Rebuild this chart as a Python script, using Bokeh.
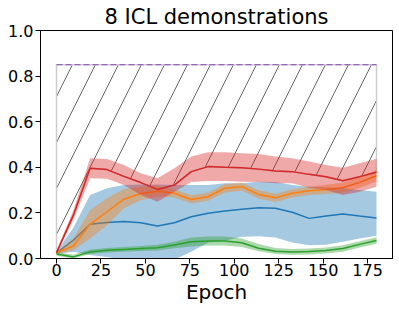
from bokeh.plotting import figure
from bokeh.models import Range1d, FixedTicker
from bokeh.embed import file_html
from bokeh.resources import INLINE

title_text = "8 ICL demonstrations"
x_label = "Epoch"
x_ticks = [0, 25, 50, 75, 100, 125, 150, 175]
y_ticks = [0.0, 0.2, 0.4, 0.6, 0.8, 1.0]

epochs = [0, 9.5, 18.9, 28.4, 37.9, 47.4, 56.8, 66.3, 75.8, 85.3,
          94.7, 104.2, 113.7, 123.2, 132.6, 142.1, 151.6, 161.1, 170.5, 180]

blue_mean = [0.025, 0.08, 0.15, 0.158, 0.162, 0.157, 0.143, 0.157, 0.183, 0.198,
             0.208, 0.216, 0.223, 0.22, 0.203, 0.176, 0.186, 0.195, 0.186, 0.178]
blue_lo = [0.02, 0.03, 0.015, 0.007, -0.005, -0.01, -0.02, -0.005, 0.03, 0.07,
           0.078, 0.095, 0.098, 0.092, 0.07, 0.058, 0.06, 0.073, 0.088, 0.1]
blue_hi = [0.03, 0.135, 0.278, 0.308, 0.322, 0.325, 0.325, 0.322, 0.322, 0.322,
           0.33, 0.33, 0.337, 0.335, 0.322, 0.315, 0.312, 0.308, 0.30, 0.293]

orange_mean = [0.025, 0.055, 0.15, 0.205, 0.26, 0.285, 0.295, 0.286, 0.259, 0.271,
               0.308, 0.315, 0.281, 0.266, 0.286, 0.297, 0.303, 0.31, 0.334, 0.363]
orange_lo = [0.02, 0.036, 0.088, 0.146, 0.22, 0.256, 0.272, 0.268, 0.241, 0.253,
             0.29, 0.297, 0.263, 0.248, 0.268, 0.279, 0.283, 0.288, 0.31, 0.338]
orange_hi = [0.03, 0.088, 0.212, 0.264, 0.305, 0.315, 0.32, 0.304, 0.277, 0.289,
             0.326, 0.333, 0.299, 0.284, 0.304, 0.315, 0.323, 0.332, 0.358, 0.388]

green_mean = [0.02, 0.007, 0.029, 0.036, 0.04, 0.044, 0.047, 0.059, 0.073, 0.077,
              0.077, 0.069, 0.045, 0.032, 0.029, 0.031, 0.035, 0.044, 0.062, 0.079]
green_lo = [0.012, 0.0, 0.02, 0.026, 0.03, 0.033, 0.035, 0.045, 0.053, 0.057,
            0.057, 0.05, 0.032, 0.02, 0.016, 0.018, 0.022, 0.03, 0.048, 0.065]
green_hi = [0.028, 0.016, 0.04, 0.046, 0.05, 0.055, 0.06, 0.074, 0.092, 0.097,
            0.097, 0.088, 0.064, 0.046, 0.042, 0.044, 0.048, 0.058, 0.076, 0.093]

red_mean = [0.025, 0.19, 0.396, 0.39, 0.36, 0.333, 0.303, 0.322, 0.381, 0.403,
            0.40, 0.398, 0.392, 0.384, 0.381, 0.369, 0.359, 0.341, 0.359, 0.378]
red_lo = [0.02, 0.17, 0.352, 0.35, 0.322, 0.278, 0.249, 0.293, 0.335, 0.34,
          0.34, 0.337, 0.335, 0.33, 0.33, 0.31, 0.30, 0.278, 0.293, 0.315]
red_hi = [0.035, 0.21, 0.44, 0.436, 0.41, 0.374, 0.352, 0.396, 0.447, 0.466,
          0.466, 0.462, 0.458, 0.447, 0.44, 0.425, 0.41, 0.398, 0.418, 0.437]

ceiling = 0.85

FONT = "DejaVu Sans"

p = figure(width=399, height=313, output_backend="svg", toolbar_location=None,
           x_range=Range1d(-9, 189), y_range=Range1d(0, 1),
           min_border_left=40, min_border_right=7, min_border_top=30,
           min_border_bottom=55)
p.grid.visible = False
p.outline_line_color = "black"
p.outline_line_width = 1
p.outline_line_alpha = 1
p.background_fill_color = "white"
p.border_fill_color = "white"

p.title.text = title_text
p.title.text_font = FONT
p.title.text_font_size = "21px"
p.title.text_font_style = "normal"
p.title.text_color = "black"
p.title.align = "center"
p.title.standoff = 3
p.title.offset = 0

for ax in (p.xaxis[0], p.yaxis[0]):
    ax.major_label_text_font = FONT
    ax.major_label_text_font_size = "16px"
    ax.major_label_text_color = "black"
    ax.axis_line_color = "black"
    ax.major_tick_line_color = "black"
    ax.major_tick_out = 5
    ax.major_tick_in = 0
    ax.minor_tick_line_color = None

p.yaxis[0].major_label_standoff = 2
p.xaxis[0].major_label_standoff = 0
p.xaxis[0].ticker = FixedTicker(ticks=x_ticks)
p.yaxis[0].ticker = FixedTicker(ticks=y_ticks)
p.yaxis[0].major_label_overrides = {t: f"{t:.1f}" for t in y_ticks}
p.xaxis[0].axis_label = x_label
p.xaxis[0].axis_label_text_font = FONT
p.xaxis[0].axis_label_text_font_size = "20px"
p.xaxis[0].axis_label_text_font_style = "normal"
p.xaxis[0].axis_label_text_color = "black"
p.xaxis[0].axis_label_standoff = 1

# hatched region between red mean and ceiling
poly_x = epochs + epochs[::-1]
poly_y = red_mean + [ceiling] * len(epochs)
p.patch(poly_x, poly_y, fill_color=None, line_color="#cccccc", line_width=1.5,
        hatch_pattern="/", hatch_color="#666666", hatch_scale=46, hatch_weight=1)
p.line([epochs[0], epochs[-1]], [ceiling, ceiling], line_color="#9467bd",
       line_width=1.3, line_dash="6 3")

series = [
    ("#1f77b4", blue_mean, blue_lo, blue_hi),
    ("#ff7f0e", orange_mean, orange_lo, orange_hi),
    ("#2ca02c", green_mean, green_lo, green_hi),
    ("#d62728", red_mean, red_lo, red_hi),
]
for color, m, lo, hi in series:
    p.varea(x=epochs, y1=lo, y2=hi, fill_color=color, fill_alpha=0.4)
    p.line(epochs, m, line_color=color, line_width=1.5)

open("out.html", "w").write(file_html(p, INLINE))
